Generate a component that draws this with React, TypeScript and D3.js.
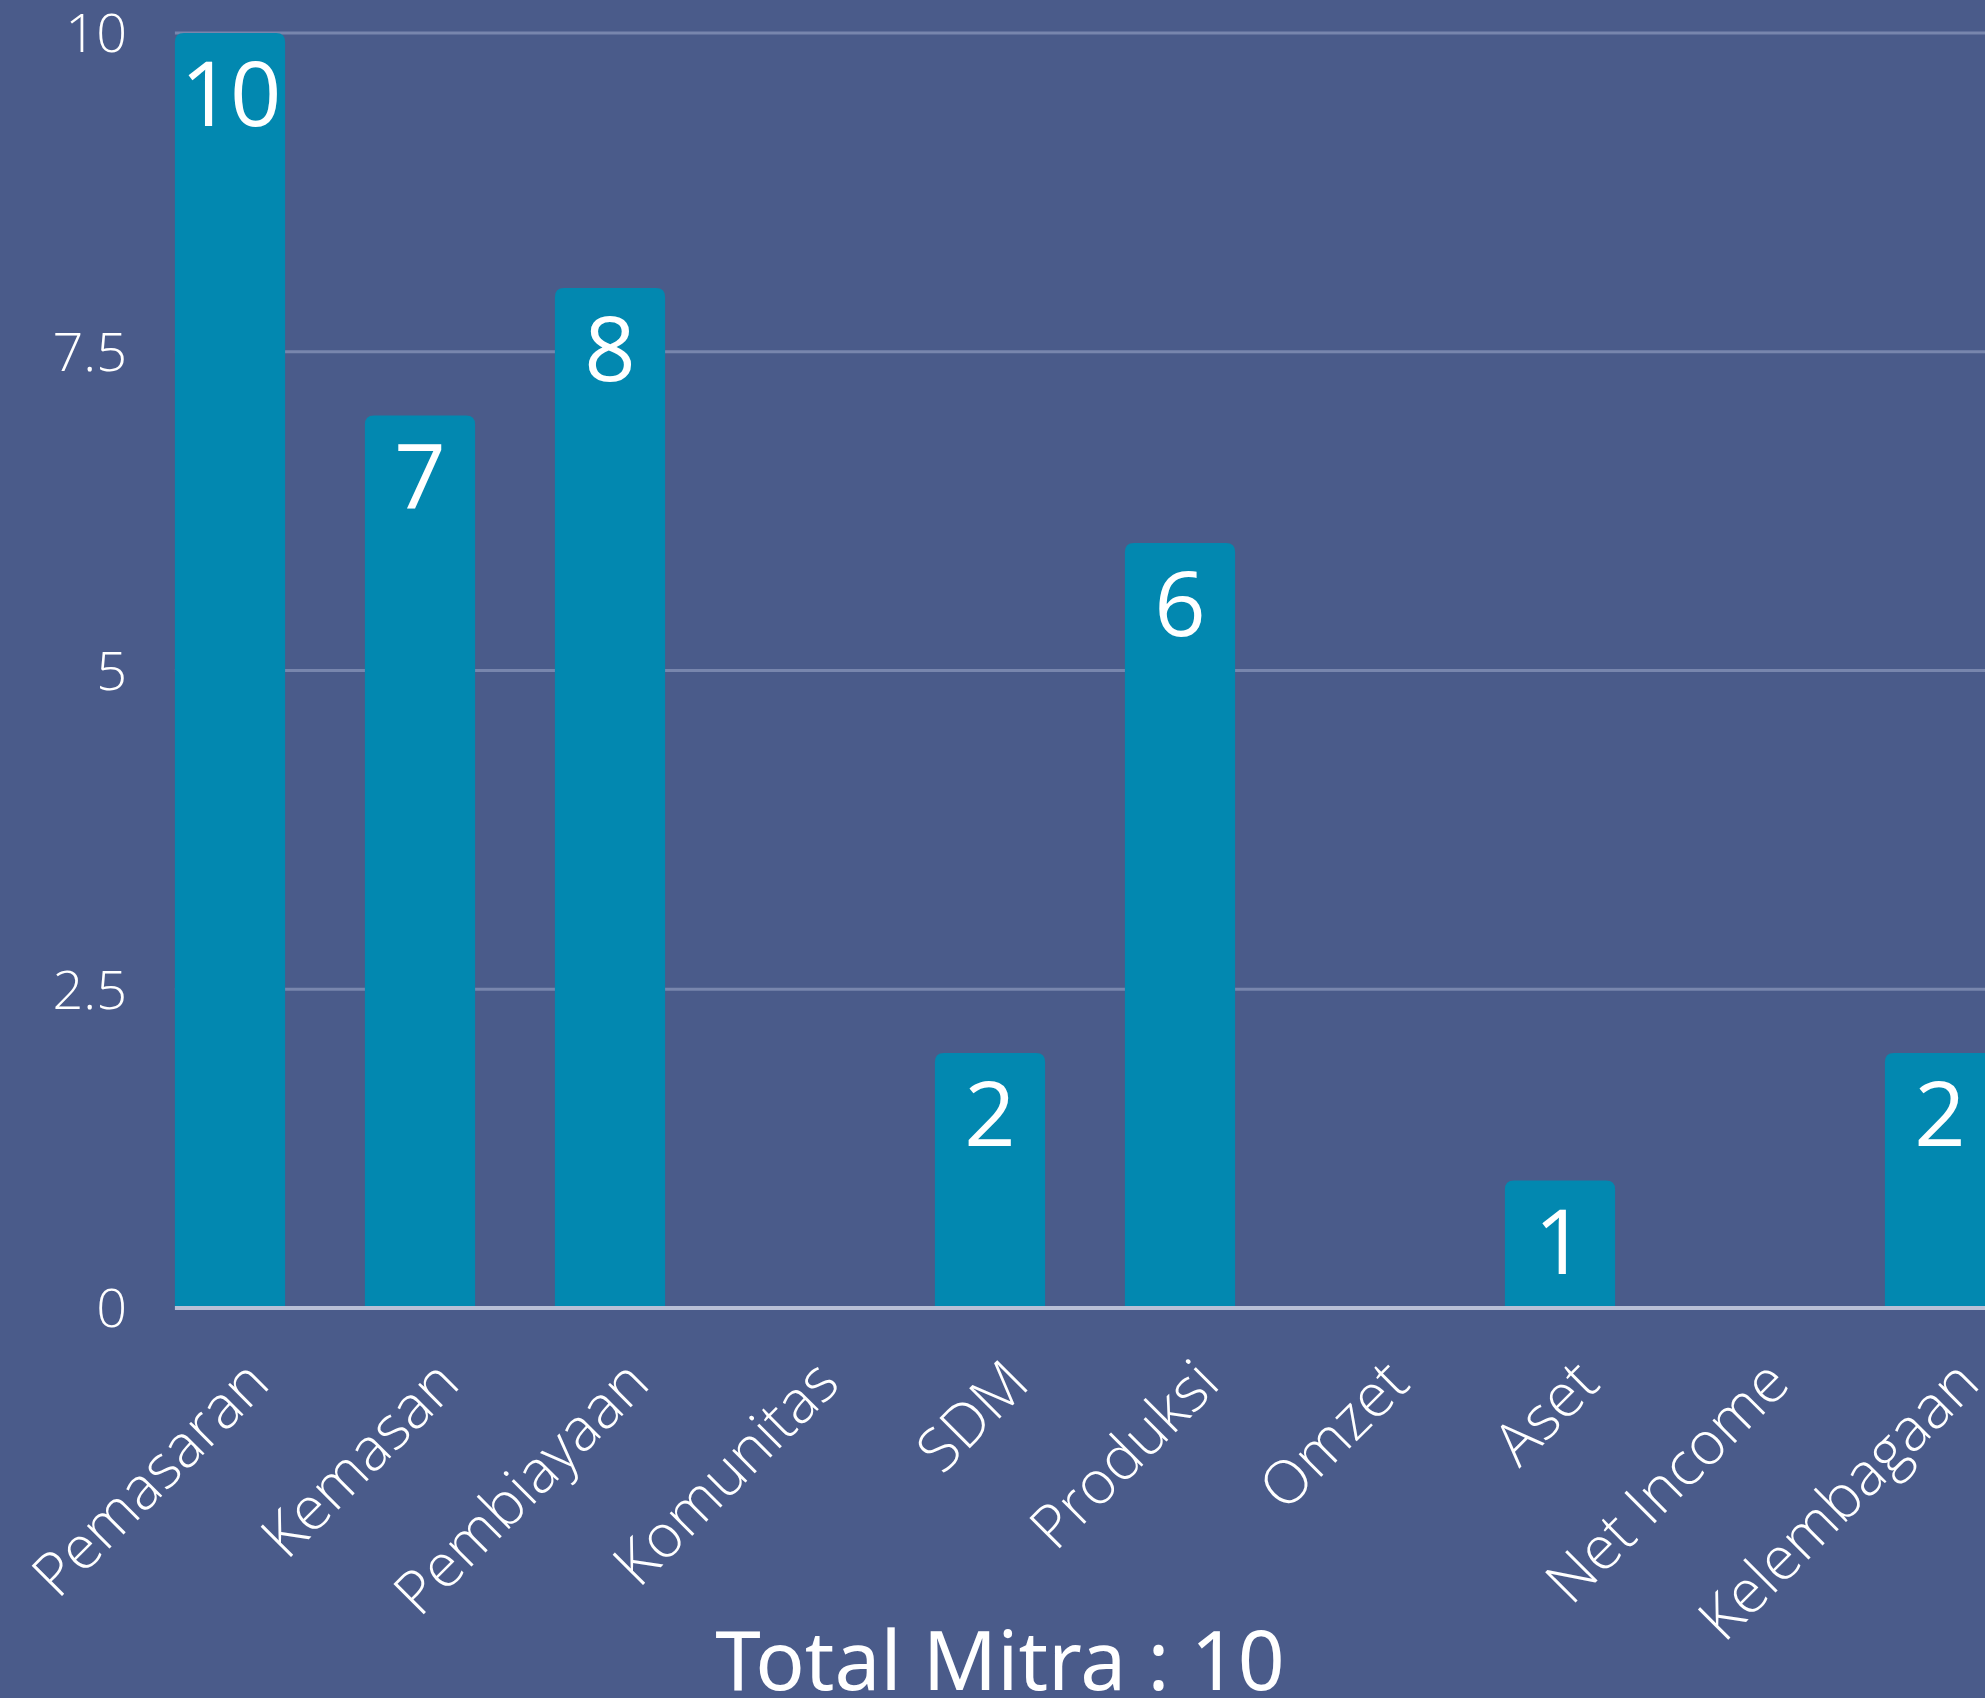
import React from 'react';
import * as d3 from 'd3';

const categories = ['Pemasaran', 'Kemasan', 'Pembiayaan', 'Komunitas', 'SDM', 'Produksi', 'Omzet', 'Aset', 'Net Income', 'Kelembagaan'];
const values = [10, 7, 8, 0, 2, 6, 0, 1, 0, 2];
const yTicks = [0, 2.5, 5, 7.5, 10];
const title = 'Total Mitra : 10';

const W = 1985;
const H = 1698;
const BG = '#4a5b8a';
const BAR = '#0288b0';

// rounded top corners only
const barPath = (x: number, y: number, w: number, h: number, r: number) => {
  const rr = Math.min(r, h / 2, w / 2);
  return `M${x},${y + h}V${y + rr}Q${x},${y} ${x + rr},${y}H${x + w - rr}Q${x + w},${y} ${x + w},${y + rr}V${y + h}Z`;
};

export default function App() {
  const x = d3.scaleBand<string>()
    .domain(categories)
    .range([135, 2035])
    .paddingInner(0.42)
    .paddingOuter(0.21);

  const y = d3.scaleLinear().domain([0, 10]).range([1308, 33]);
  const gridStart = x(categories[0]) || 0;

  return (
    <div style={{ position: 'absolute', left: 0, top: 0, width: W, height: H, overflow: 'hidden' }}>
      <svg width={W} height={H} style={{ display: 'block', background: BG }}>
        {/* gridlines */}
        {yTicks.filter(t => t > 0).map(t => (
          <line key={t} x1={gridStart} x2={W} y1={y(t)} y2={y(t)} stroke="#7886ad" strokeWidth={3} />
        ))}

        {/* y tick labels */}
        {yTicks.map(t => (
          <text key={t} x={127} y={y(t)} dy="0.36em" textAnchor="end" fill="#ffffff"
            fontFamily="'Open Sans', sans-serif" fontWeight={300} fontSize={54}>
            {t}
          </text>
        ))}

        {/* bars */}
        {categories.map((c, i) => values[i] > 0 ? (
          <path key={c} d={barPath(x(c) || 0, y(values[i]), x.bandwidth(), y(0) - y(values[i]), 9)} fill={BAR} />
        ) : null)}

        {/* baseline */}
        <line x1={gridStart} x2={W} y1={y(0)} y2={y(0)} stroke="#b9c0d6" strokeWidth={4} />

        {/* value labels */}
        {categories.map((c, i) => values[i] > 0 ? (
          <text key={c} x={(x(c) || 0) + x.bandwidth() / 2} y={y(values[i]) + 93} textAnchor="middle"
            fill="#ffffff" fontFamily="'Open Sans', sans-serif" fontWeight={400} fontSize={90}
            letterSpacing={values[i] >= 10 ? -2 : 0}>
            {values[i]}
          </text>
        ) : null)}

        {/* x labels */}
        {categories.map(c => {
          const cx = (x(c) || 0) + x.bandwidth() / 2 + 42;
          const cy = 1386;
          return (
            <text key={c} x={cx} y={cy} transform={`rotate(-45, ${cx}, ${cy})`} textAnchor="end"
              fill="#ffffff" fontFamily="'Open Sans', sans-serif" fontWeight={300} fontSize={60}>
              {c}
            </text>
          );
        })}

        {/* title */}
        <text x={1000} y={1690} textAnchor="middle" fill="#ffffff"
          fontFamily="'Noto Sans', sans-serif" fontWeight={400} fontSize={82}>
          {title}
        </text>
      </svg>
    </div>
  );
}
